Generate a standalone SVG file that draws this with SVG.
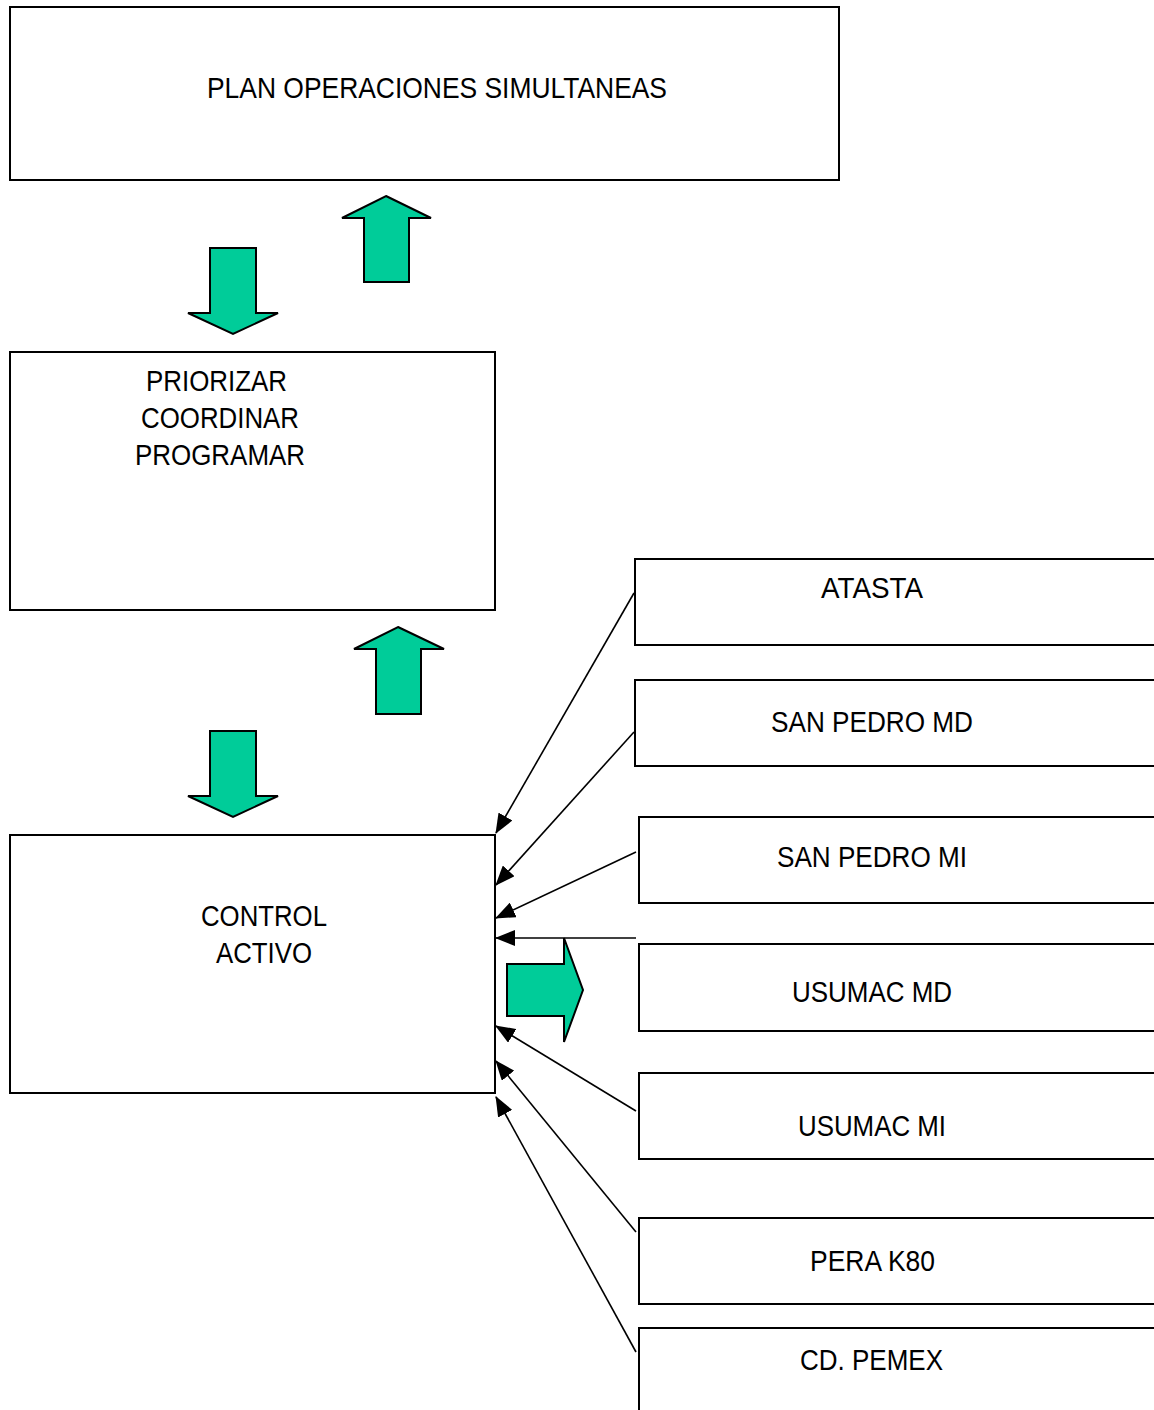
<svg xmlns="http://www.w3.org/2000/svg" width="1154" height="1410" viewBox="0 0 1154 1410">
<style>
.box{fill:#fff;stroke:#000;stroke-width:2}
.t{font-family:"Liberation Sans",Arial,sans-serif;font-size:30px;fill:#000}
.g{fill:#00CC99;stroke:#000;stroke-width:2;stroke-linejoin:miter}
.c{stroke:#000;stroke-width:1.6;fill:none;marker-end:url(#ah)}
</style>
<defs>
<marker id="ah" markerUnits="userSpaceOnUse" markerWidth="20" markerHeight="16" viewBox="0 0 20 16" refX="19" refY="8" orient="auto">
<path d="M0,0 L20,8 L0,16 z" fill="#000"/>
</marker>
</defs>
<rect width="1154" height="1410" fill="#fff"/>
<g id="plan"><rect class="box" x="10" y="7" width="829" height="173"/><text class="t" x="207" y="98" textLength="460" lengthAdjust="spacingAndGlyphs">PLAN OPERACIONES SIMULTANEAS</text></g>
<g id="priorizar"><rect class="box" x="10" y="352" width="485" height="258"/>
<text class="t" x="146" y="391" textLength="141" lengthAdjust="spacingAndGlyphs">PRIORIZAR</text>
<text class="t" x="141" y="428" textLength="158" lengthAdjust="spacingAndGlyphs">COORDINAR</text>
<text class="t" x="135" y="465" textLength="170" lengthAdjust="spacingAndGlyphs">PROGRAMAR</text></g>
<g id="control"><rect class="box" x="10" y="835" width="485" height="258"/>
<text class="t" x="201" y="926" textLength="126" lengthAdjust="spacingAndGlyphs">CONTROL</text>
<text class="t" x="216" y="963" textLength="96" lengthAdjust="spacingAndGlyphs">ACTIVO</text></g>
<g id="atasta"><rect class="box" x="635" y="559" width="540" height="86"/><text class="t" x="821" y="598" textLength="102" lengthAdjust="spacingAndGlyphs">ATASTA</text></g>
<g id="sanpedromd"><rect class="box" x="635" y="680" width="540" height="86"/><text class="t" x="771" y="732" textLength="202" lengthAdjust="spacingAndGlyphs">SAN PEDRO MD</text></g>
<g id="sanpedromi"><rect class="box" x="639" y="817" width="540" height="86"/><text class="t" x="777" y="867" textLength="190" lengthAdjust="spacingAndGlyphs">SAN PEDRO MI</text></g>
<g id="usumacmd"><rect class="box" x="639" y="944" width="540" height="87"/><text class="t" x="792" y="1002" textLength="160" lengthAdjust="spacingAndGlyphs">USUMAC MD</text></g>
<g id="usumacmi"><rect class="box" x="639" y="1073" width="540" height="86"/><text class="t" x="798" y="1136" textLength="148" lengthAdjust="spacingAndGlyphs">USUMAC MI</text></g>
<g id="perak80"><rect class="box" x="639" y="1218" width="540" height="86"/><text class="t" x="810" y="1271" textLength="125" lengthAdjust="spacingAndGlyphs">PERA K80</text></g>
<g id="cdpemex"><rect class="box" x="639" y="1328" width="540" height="120"/><text class="t" x="800" y="1370" textLength="143" lengthAdjust="spacingAndGlyphs">CD. PEMEX</text></g>
<g id="block-arrows">
<polygon class="g" points="210,248 256,248 256,313 278,313 233,334 188,313 210,313"/>
<polygon class="g" points="386,196 431,218 409,218 409,282 364,282 364,218 342,218"/>
<polygon class="g" points="398,627 444,649 421,649 421,714 376,714 376,649 354,649"/>
<polygon class="g" points="210,731 256,731 256,796 278,796 233,817 188,796 210,796"/>
<polygon class="g" points="507,964 564,964 564,938 583,990 564,1042 564,1016 507,1016"/>
</g>
<g id="connectors">
<line class="c" x1="634" y1="593" x2="496" y2="833"/>
<line class="c" x1="634" y1="732" x2="496" y2="885"/>
<line class="c" x1="636" y1="852" x2="496" y2="918"/>
<line class="c" x1="636" y1="938" x2="496" y2="938"/>
<line class="c" x1="636" y1="1111" x2="496" y2="1026"/>
<line class="c" x1="636" y1="1232" x2="496" y2="1061"/>
<line class="c" x1="636" y1="1352" x2="496" y2="1097"/>
</g>
</svg>
